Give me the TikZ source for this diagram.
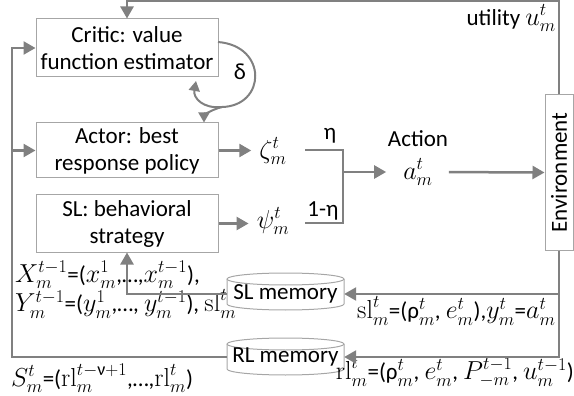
\RequirePackage{fix-cm}
\documentclass[tikz,border=0pt]{standalone}
\usepackage{amsmath}
\usepackage[no-math]{fontspec}
\setmainfont{Carlito}
\usetikzlibrary{arrows.meta}
\DeclareMathSizes{23}{26}{18}{14}
\definecolor{ag}{HTML}{808080}
\definecolor{bg}{HTML}{A6A6A6}
\newcommand\fs{\fontsize{23}{27}\selectfont}
\tikzset{
 box/.style={draw=bg, line width=1pt, minimum width=182pt, align=center, font=\fs, inner sep=2pt},
 conn/.style={draw=ag, line width=2.5pt, -{Triangle[length=12pt,width=13pt]}},
 plain/.style={draw=ag, line width=2.5pt},
 loopc/.style={draw=ag, line width=2pt},
 loopa/.style={draw=ag, line width=2pt, -{Triangle[length=10pt,width=11pt]}},
 lbl/.style={inner sep=0pt, font=\fs},
 memtxt/.style={inner sep=0pt, font=\fs, minimum width=117pt, minimum height=20pt},
 cyl/.style={draw=bg, line width=1pt},
}
\begin{document}
\begin{tikzpicture}[x=1pt,y=-1pt]
\useasboundingbox (0,0) rectangle (574,396);
% boxes
\node[box, minimum height=58pt] (critic) at (127,48) {Critic: value\\function estimator};
\node[box, minimum height=55pt] (actor) at (127,150.5) {Actor: best\\response policy};
\node[box, minimum height=57pt] (sl) at (127,223.5) {SL: behavioral\\strategy};
\node[draw=bg, line width=1pt, rotate=90, minimum width=155pt, minimum height=28pt, font=\fs, inner sep=1pt] (env) at (559,172.5) {Environment};
% memories
\draw[cyl] (285.5,279) ellipse [x radius=58.5pt, y radius=6pt];
\draw[cyl] (227,279) -- (227,304) arc[start angle=180, end angle=360, x radius=58.5pt, y radius=6pt] -- (344,279);
\node[memtxt] (slmem) at (285.5,294) {SL memory};
\draw[cyl] (285.5,344) ellipse [x radius=58.5pt, y radius=6pt];
\draw[cyl] (227,344) -- (227,369) arc[start angle=180, end angle=360, x radius=58.5pt, y radius=6pt] -- (344,344);
\node[memtxt] (rlmem) at (285.5,357) {RL memory};
% labels
\node[lbl] (zeta) at (273,151) {$\zeta_m^t$};
\node[lbl] (psi) at (273,221) {$\psi_m^t$};
\node[lbl] (eta) at (330,136) {η};
\node[lbl] (eta2) at (323,211) {1-η};
\node[lbl] (action) at (418,139) {Action};
\node[lbl] (aml) at (418,172) {$a_m^t$};
\node[lbl] (delta) at (240,72) {δ};
\node[lbl, anchor=east] (util) at (556,18) {utility $u_m^t$};
\node[lbl, anchor=west] (xl) at (15,275) {$X_m^{t-1}$=($x_m^1$,…,$x_m^{t-1}$),};
\node[lbl, anchor=west] (yl) at (15,304) {$Y_m^{t-1}$=($y_m^1$,…, $y_m^{t-1}$), $\mathrm{sl}_m^t$};
\node[lbl, anchor=west] (sll) at (357,311) {$\mathrm{sl}_m^t$=(ρ$_m^t$, $e_m^t$),$y_m^t$=$a_m^t$};
\node[lbl, anchor=east] (rll) at (574,372) {$\mathrm{rl}_m^t$=(ρ$_m^t$, $e_m^t$, $P_{-m}^{t-1}$, $u_m^{t-1}$)};
\node[lbl, anchor=west] (sl2) at (11,378) {$S_m^t$=($\mathrm{rl}_m^{t-\text{ν}+1}$,…,$\mathrm{rl}_m^t$)};
% coordinates
\coordinate (lc) at (12,357);
\coordinate (tc) at (559,1);
\coordinate (e1) at (305,150);
\coordinate (j1) at (343,150);
\coordinate (j2) at (343,223);
\coordinate (e2) at (305,223);
\coordinate (jm) at (343,172);
\coordinate (ds) at (218,42);
\coordinate (dl) at (222,107);
\coordinate (da) at (196,81);
% connectors
\draw[conn] (rlmem.west) -- (lc) |- (critic.west);
\draw[conn] (lc |- actor.west) -- (actor.west);
\draw[conn] (slmem.west) -| (sl.south);
\draw[conn] (env.east) -- (tc) -| (critic.north);
\draw[conn] (env.west) |- (rlmem.east);
\draw[conn] (env.west |- slmem.east) -- (slmem.east);
\draw[conn, shorten >=8pt] (actor.east) -- (actor.east -| zeta.west);
\draw[conn, shorten >=8pt] (sl.east) -- (sl.east -| psi.west);
\draw[plain] (e1) -- (j1) -- (j2) -- (e2);
\draw[conn, shorten >=17pt] (jm) -- (jm -| aml.west);
\draw[conn, shorten <=16pt] (aml.east |- jm) -- (env.north);
% delta loop
\draw[loopc] (ds) .. controls (268,46) and (266,106) .. (dl);
\draw[loopa] (dl) .. controls (203,109) and (193,98) .. (da);
\draw[loopa] (dl) .. controls (210,110) and (204,116) .. (actor.north -| 204,0);
\end{tikzpicture}
\end{document}
